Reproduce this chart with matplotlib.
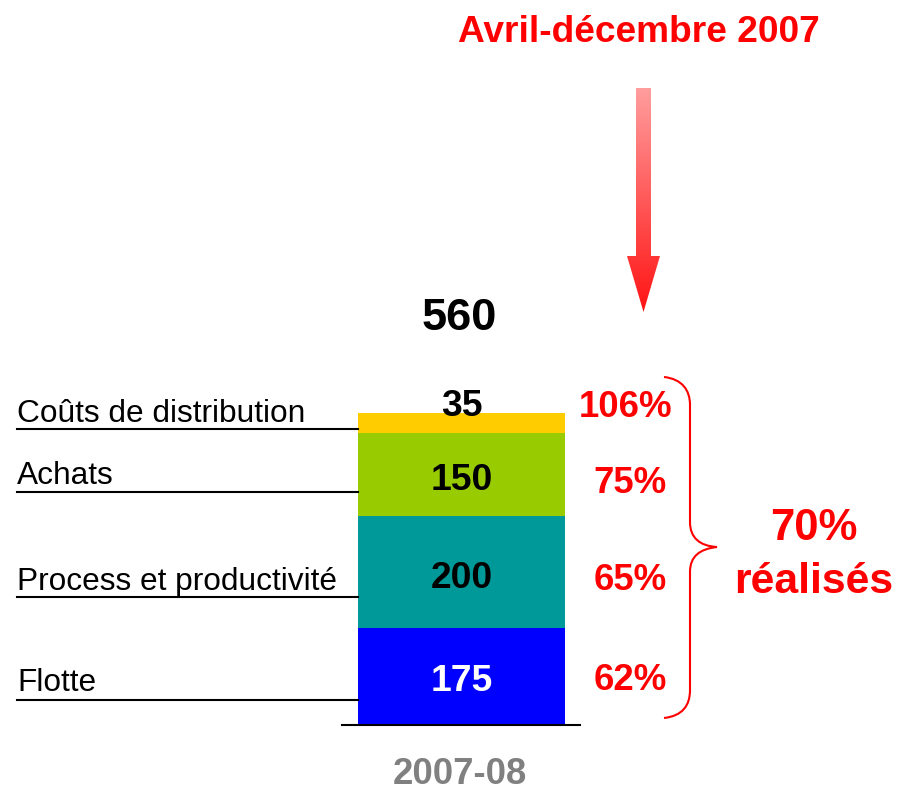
import numpy as np
import matplotlib
matplotlib.use("Agg")
import matplotlib.pyplot as plt
from matplotlib.path import Path
from matplotlib.patches import PathPatch, Polygon

# ---- data ----
categories = ["Flotte", "Process et productivité", "Achats", "Coûts de distribution"]
values = [175, 200, 150, 35]
percents = ["62%", "65%", "75%", "106%"]
seg_colors = ["#0000FF", "#009999", "#99CC00", "#FFCC00"]
value_colors = ["white", "black", "black", "black"]
period = "2007-08"
total_label = "560"
title = "Avril-décembre 2007"
overall = ["70%", "réalisés"]

plt.rcParams["font.family"] = ["Liberation Sans", "DejaVu Sans"]

W, H = 897, 791
fig = plt.figure(figsize=(W / 100, H / 100), dpi=100)
ax = fig.add_axes([0, 0, 1, 1])
ax.set_axis_off()

K = 0.557      # pixels per unit
BASE = 725     # pixel row of the zero line
ax.set_xlim(0, W)
ax.set_ylim((BASE - H) / K, BASE / K)


def py(ypx):
    return (BASE - ypx) / K


BAR_X, BAR_W = 461.5, 207
RED = "#FF0000"

# stacked bar
bottoms = np.concatenate([[0], np.cumsum(values)[:-1]])
ax.bar([BAR_X] * len(values), values, bottom=bottoms, width=BAR_W,
       color=seg_colors, linewidth=0, zorder=2)

# baseline
ax.plot([342, 580], [0, 0], color="black", lw=1.5, zorder=3)

# category labels with underline
label_line_y = [700, 597, 492, 429]
label_base_y = [691, 590, 484, 422]
for cat, ly, ty in zip(categories, label_line_y, label_base_y):
    ax.plot([17, 358], [py(ly), py(ly)], color="black", lw=1.5, zorder=3)
    ax.text(17, py(ty), cat, fontsize=22.8, ha="left", va="baseline", color="black")

# segment value labels
val_base_y = [691, 588, 490, 416]
for v, c, ty in zip(values, value_colors, val_base_y):
    ax.text(BAR_X, py(ty), str(v), fontsize=26.8, fontweight="bold",
            ha="center", va="baseline", color=c, zorder=4)

# percents
pct_base_y = [690, 590, 493, 417]
pct_x = [630, 630, 630, 626]
for p, x, ty in zip(percents, pct_x, pct_base_y):
    ax.text(x, py(ty), p, fontsize=26.4, fontweight="bold",
            ha="center", va="baseline", color=RED)

# total
ax.text(BAR_X - 2, py(330), total_label, fontsize=32.5, fontweight="bold",
        ha="center", va="baseline", color="black")

# period label
ax.text(BAR_X - 2, py(775), period, fontsize=26.3, fontweight="bold",
        ha="center", va="center", color="#808080")

# title
ax.text(639, py(42), title, fontsize=26.7, fontweight="bold",
        ha="center", va="baseline", color=RED)

# overall
ax.text(814, py(540), overall[0], fontsize=31.4, fontweight="bold",
        ha="center", va="baseline", color=RED)
ax.text(814, py(593), overall[1], fontsize=30.8, fontweight="bold",
        ha="center", va="baseline", color=RED)

# brace
pts = [(664, 377), (682, 379), (690, 390), (690, 405),
       (690, 522),
       (690, 538), (700, 546), (717, 547),
       (700, 549), (690, 556), (690, 572),
       (690, 690),
       (690, 706), (682, 716), (664, 718)]
codes = [Path.MOVETO, Path.CURVE4, Path.CURVE4, Path.CURVE4,
         Path.LINETO,
         Path.CURVE4, Path.CURVE4, Path.CURVE4,
         Path.CURVE4, Path.CURVE4, Path.CURVE4,
         Path.LINETO,
         Path.CURVE4, Path.CURVE4, Path.CURVE4]
brace = Path([(x, py(y)) for x, y in pts], codes)
ax.add_patch(PathPatch(brace, facecolor="none", edgecolor=RED, lw=1.5))

# gradient arrow
arrow_pts = [(636, 88), (651, 88), (651, 256), (660, 256), (643.5, 312),
             (627, 256), (636, 256)]
arrow = Polygon([(x, py(y)) for x, y in arrow_pts], closed=True,
                facecolor="none", edgecolor="none")
ax.add_patch(arrow)
n = 200
t = np.linspace(0, 1, n)[:, None]
top = np.array([1.0, 0.62, 0.62])
bot = np.array([1.0, 0.08, 0.08])
grad = (top * (1 - t) + bot * t)[:, None, :]
grad = np.repeat(grad, 2, axis=1)
im = ax.imshow(grad, extent=[627, 660, py(312), py(88)], aspect="auto",
               interpolation="bilinear", zorder=2)
im.set_clip_path(arrow)

fig.savefig("out.png", dpi=100)
